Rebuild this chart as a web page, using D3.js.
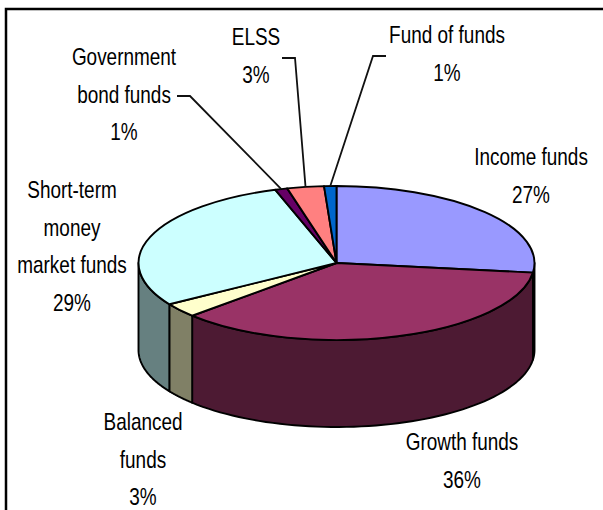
<!DOCTYPE html>
<html>
<head>
<meta charset="utf-8">
<style>
  html, body { margin: 0; padding: 0; background: #fff; }
  text { font-family: "Liberation Sans", Arial, sans-serif; fill: #000; }
</style>
<script src="https://cdn.jsdelivr.net/npm/d3@7/dist/d3.min.js"></script>
</head>
<body>
<svg id="chart" width="603" height="510"></svg>
<script>
// Mutual fund assets by category, in percent, clockwise from twelve o'clock
const categories = ["Income funds", "Growth funds", "Balanced funds", "Short-term money market funds",
                    "Government bond funds", "ELSS", "Fund of funds"];
const shares = [27, 36, 3, 29, 1, 3, 1];
const labelLines = [["Income funds"], ["Growth funds"], ["Balanced", "funds"],
                    ["Short-term", "money", "market funds"], ["Government", "bond funds"],
                    ["ELSS"], ["Fund of funds"]];
const topColors = ["#9999FF", "#993366", "#FFFFCC", "#CCFFFF", "#660066", "#FF8080", "#0066CC"];
const wallColors = ["#4D4D80", "#4D1A33", "#808066", "#668080", "#330033", "#804040", "#003366"];

// Layout of the tilted disc and its labels
const cx = 336.5, cy = 263, rx = 198, ry = 77, depth = 87;
const labelCentres = [[531, 165], [462, 450], [143, 430], [72, 198], [124, 65], [256, 45], [447, 43]];
const lineGap = 37.5;
const leaderStarts = [null, null, null, null, [[177, 96], [190, 96]], [[282, 58], [295, 58]], [[386, 56], [373, 56]]];

const svg = d3.select("#chart");

// Frame around the chart
svg.append("path")
  .attr("d", "M6,510V9H603")
  .attr("fill", "none").attr("stroke", "#000").attr("stroke-width", 2.5);

const x = d3.scaleLinear().domain([-1, 1]).range([cx - rx, cx + rx]);
const y = d3.scaleLinear().domain([-1, 1]).range([cy - ry, cy + ry]);
const px = a => x(Math.sin(a));
const py = (a, drop = 0) => y(-Math.cos(a)) + drop;

const slices = d3.pie().sort(null).value(d => d)(shares);
const line = d3.line();

// Outer wall: only the stretch of each slice on the near half of the disc shows
const wallFrom = Math.PI / 2, wallTo = 3 * Math.PI / 2;
slices.forEach((s, i) => {
  const a0 = Math.max(s.startAngle, wallFrom), a1 = Math.min(s.endAngle, wallTo);
  if (a1 <= a0) return;
  const angles = d3.range(0, 61).map(k => a0 + (a1 - a0) * k / 60);
  const pts = angles.map(a => [px(a), py(a)])
    .concat(angles.slice().reverse().map(a => [px(a), py(a, depth)]));
  svg.append("path")
    .attr("d", line(pts) + "Z")
    .attr("fill", wallColors[i])
    .attr("stroke", "#000").attr("stroke-width", 1.9).attr("stroke-linejoin", "round");
});

// Top face
const topArc = d3.arc().innerRadius(0).outerRadius(1);
svg.append("g")
  .attr("transform", `translate(${cx},${cy}) scale(${rx},${ry})`)
  .selectAll("path")
  .data(slices)
  .join("path")
  .attr("d", topArc)
  .attr("fill", (d, i) => topColors[i])
  .attr("stroke", "#000").attr("stroke-width", 1.9)
  .attr("stroke-linejoin", "round")
  .attr("vector-effect", "non-scaling-stroke");

// Leader lines run from the label to the middle of the slice's rim
slices.forEach((s, i) => {
  if (!leaderStarts[i]) return;
  const mid = (s.startAngle + s.endAngle) / 2;
  svg.append("path")
    .attr("d", line(leaderStarts[i].concat([[px(mid), py(mid)]])))
    .attr("fill", "none").attr("stroke", "#111").attr("stroke-width", 1.8);
});

// Category names with the share as the last line
const squeeze = 0.79;
categories.forEach((name, i) => {
  const [lx, ly] = labelCentres[i];
  const lines = labelLines[i].concat(`${shares[i]}%`);
  lines.forEach((t, k) => {
    svg.append("text")
      .attr("transform", `translate(${lx},${ly + k * lineGap}) scale(${squeeze},1)`)
      .attr("text-anchor", "middle")
      .attr("font-size", 24)
      .text(t);
  });
});
</script>
</body>
</html>
